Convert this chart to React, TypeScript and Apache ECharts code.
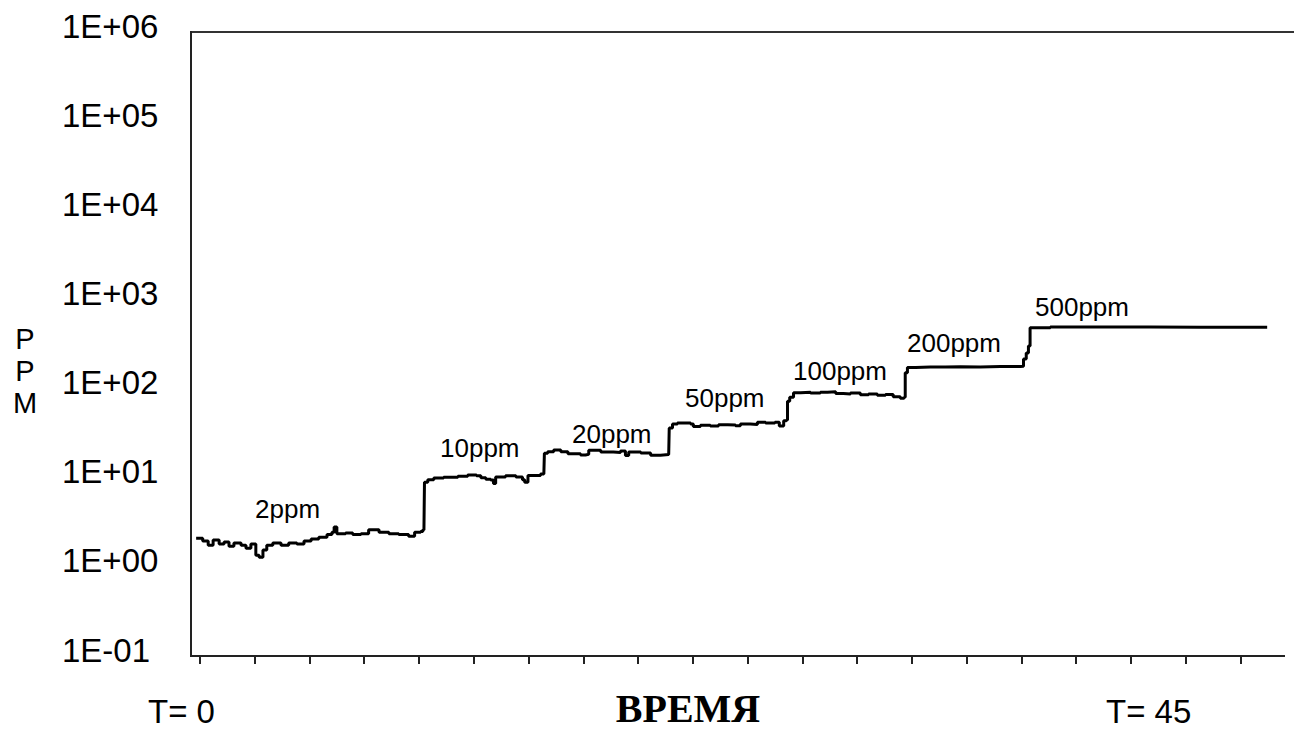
import React, { useEffect, useRef } from "react";
import * as echarts from "echarts";

// Time positions in axis-tick units (tick 0 ... tick 19)
const timeTicks = [0, 1, 2, 3, 4, 5, 6, 7, 8, 9, 10, 11, 12, 13, 14, 15, 16, 17, 18, 19];

// Measured concentration trace (time in tick units, value in ppm)
const traceTime = [
  -0.07, 0.05, 0.15, 0.24, 0.35, 0.44, 0.53, 0.62, 0.75, 0.84, 0.93, 1.02, 1.08, 1.15, 1.22, 1.33, 1.48, 1.62, 1.77, 1.9,
  2.03, 2.17, 2.32, 2.41, 2.45, 2.5, 2.66, 2.79, 2.94, 3.08, 3.27, 3.45, 3.63, 3.81, 3.92, 4.03, 4.07,
  4.09, 4.1, 4.16, 4.27, 4.45, 4.71, 4.89, 5.05, 5.13, 5.22, 5.31, 5.36, 5.4, 5.58, 5.77, 5.89, 5.93, 5.99, 6.22,
  6.28, 6.29, 6.35, 6.46, 6.59, 6.72, 6.95, 7.04, 7.1, 7.32, 7.55, 7.68, 7.77, 7.83, 8.05, 8.23, 8.41, 8.56,
  8.57, 8.63, 8.72, 8.96, 9.01, 9.14, 9.32, 9.47, 9.64, 9.78, 9.87, 10.05, 10.18, 10.33, 10.5, 10.58, 10.66, 10.71,
  10.73, 10.77, 10.84, 10.97, 11.15, 11.33, 11.46, 11.61, 11.75, 11.88, 12.06, 12.21, 12.37, 12.52, 12.66, 12.79, 12.86,
  12.88, 12.92, 13.07, 13.34, 13.61, 13.89, 14.25, 14.62, 14.98,
  15.04, 15.09, 15.13, 15.16, 15.53, 16.44, 17.35, 18.27, 19.49,
];
const tracePpm = [
  2.1, 1.95, 1.75, 2.0, 1.8, 1.9, 1.7, 1.85, 1.75, 1.62, 1.8, 1.35, 1.28, 1.55, 1.75, 1.85, 1.75, 1.85, 1.8, 1.95,
  2.05, 2.15, 2.3, 2.45, 2.8, 2.35, 2.4, 2.3, 2.35, 2.6, 2.45, 2.35, 2.3, 2.2, 2.45, 2.5, 2.6,
  2.6, 8.9, 9.5, 9.9, 10.1, 10.4, 10.7, 10.5, 10.0, 9.6, 9.4, 8.6, 10.2, 10.5, 10.2, 9.5, 8.9, 10.6, 11.0,
  11.0, 18.8, 19.6, 20.4, 19.5, 18.6, 18.0, 18.3, 20.3, 19.4, 19.2, 20.0, 17.8, 19.4, 18.9, 17.9, 18.2, 18.3,
  36, 40, 41, 40, 37.5, 38.8, 38.0, 39.2, 39.0, 38.2, 40.0, 39.5, 42.0, 41.0, 42.0, 38.0, 43.5, 44.5,
  72, 80, 90, 91, 89, 91, 92, 88, 87, 89, 85, 87, 84, 86, 81, 78, 80,
  150, 172, 175, 175, 176, 175, 177, 177, 178,
  215, 250, 300, 480, 492, 490, 488, 488, 487,
];

// Step annotations
const stepLabels = ["2ppm", "10ppm", "20ppm", "50ppm", "100ppm", "200ppm", "500ppm"];
const yAxisLetters = ["P", "P", "M"];
const yTickLabelFor = (v: number) => {
  const e = Math.round(Math.log10(v));
  const sign = e < 0 ? "-" : "+";
  const a = Math.abs(e);
  return "1E" + sign + (a < 10 ? "0" + a : String(a));
};

export default function App() {
  const ref = useRef<HTMLDivElement>(null);

  useEffect(() => {
    if (!ref.current) return;
    const chart = echarts.init(ref.current, undefined, { renderer: "svg" });

    const labelPos = [
      [255, 509],
      [440, 448],
      [572, 434],
      [685, 398],
      [793, 371],
      [907, 343],
      [1035, 307],
    ];
    const sans = "'Liberation Sans', Arial, sans-serif";
    const txt = (x: number, y: number, text: string, extra: any) => ({
      type: "text",
      x,
      y,
      style: {
        text,
        fill: "#000",
        fontFamily: sans,
        align: "left",
        verticalAlign: "middle",
        textAlign: "left",
        textVerticalAlign: "middle",
        ...extra,
      },
    });

    const graphic: any[] = [
      {
        type: "line",
        shape: { x1: 191, y1: 32, x2: 1294, y2: 32 },
        style: { stroke: "#333", lineWidth: 2 },
        silent: true,
      },
      {
        type: "line",
        shape: { x1: 191, y1: 31, x2: 191, y2: 657 },
        style: { stroke: "#222", lineWidth: 2 },
        silent: true,
      },
      {
        type: "line",
        shape: { x1: 190, y1: 656, x2: 1285, y2: 656 },
        style: { stroke: "#222", lineWidth: 2 },
        silent: true,
      },
      ...stepLabels.map((t, i) => txt(labelPos[i][0], labelPos[i][1], t, { fontSize: 26 })),
      ...yAxisLetters.map((t, i) =>
        txt(25, 339 + i * 32, t, {
          fontSize: 29,
          lineHeight: 26,
          align: "center",
          textAlign: "center",
        })
      ),
      txt(148, 711, "T= 0", { fontSize: 33, lineHeight: 28 }),
      txt(1106, 711, "T= 45", { fontSize: 33, lineHeight: 28 }),
      txt(688, 708, "ВРЕМЯ", {
        fontSize: 40,
        lineHeight: 34,
        fontWeight: "bold",
        fontFamily: "'Liberation Serif', 'Times New Roman', serif",
        align: "center",
        textAlign: "center",
      }),
    ];

    chart.setOption({
      animation: false,
      backgroundColor: "#fff",
      grid: { show: false, borderWidth: 0, left: 191, top: 32, right: 0, bottom: 729 - 656, containLabel: false },
      xAxis: {
        type: "value",
        min: -0.164,
        max: 19.98,
        axisLine: { show: false, onZero: false },
        axisTick: {
          show: true,
          inside: false,
          length: 8,
          customValues: timeTicks,
          lineStyle: { color: "#222", width: 2 },
        },
        axisLabel: { show: false },
        splitLine: { show: false, showMinLine: false, showMaxLine: false },
        minorSplitLine: { show: false },
      },
      yAxis: {
        type: "log",
        logBase: 10,
        min: 0.1,
        max: 1e6,
        axisLine: { show: false, onZero: false },
        axisTick: { show: false },
        splitLine: { show: false, showMinLine: false, showMaxLine: false },
        minorSplitLine: { show: false },
        axisLabel: {
          show: true,
          showMinLabel: true,
          showMaxLabel: true,
          formatter: (v: number) => yTickLabelFor(v),
          fontSize: 33,
          lineHeight: 12,
          fontFamily: sans,
          color: "#000",
          align: "left",
          verticalAlign: "bottom",
          margin: 129,
        },
      },
      series: [
        {
          type: "line",
          step: "end",
          data: traceTime.map((t, i) => [t, tracePpm[i]]),
          showSymbol: false,
          symbol: "none",
          lineStyle: { color: "#000", width: 3 },
          itemStyle: { color: "#000" },
          silent: true,
        },
      ],
      graphic,
    });

    return () => chart.dispose();
  }, []);

  return (
    <div
      ref={ref}
      style={{ position: "fixed", left: 0, top: 0, width: 1294, height: 729, background: "#fff" }}
    />
  );
}
